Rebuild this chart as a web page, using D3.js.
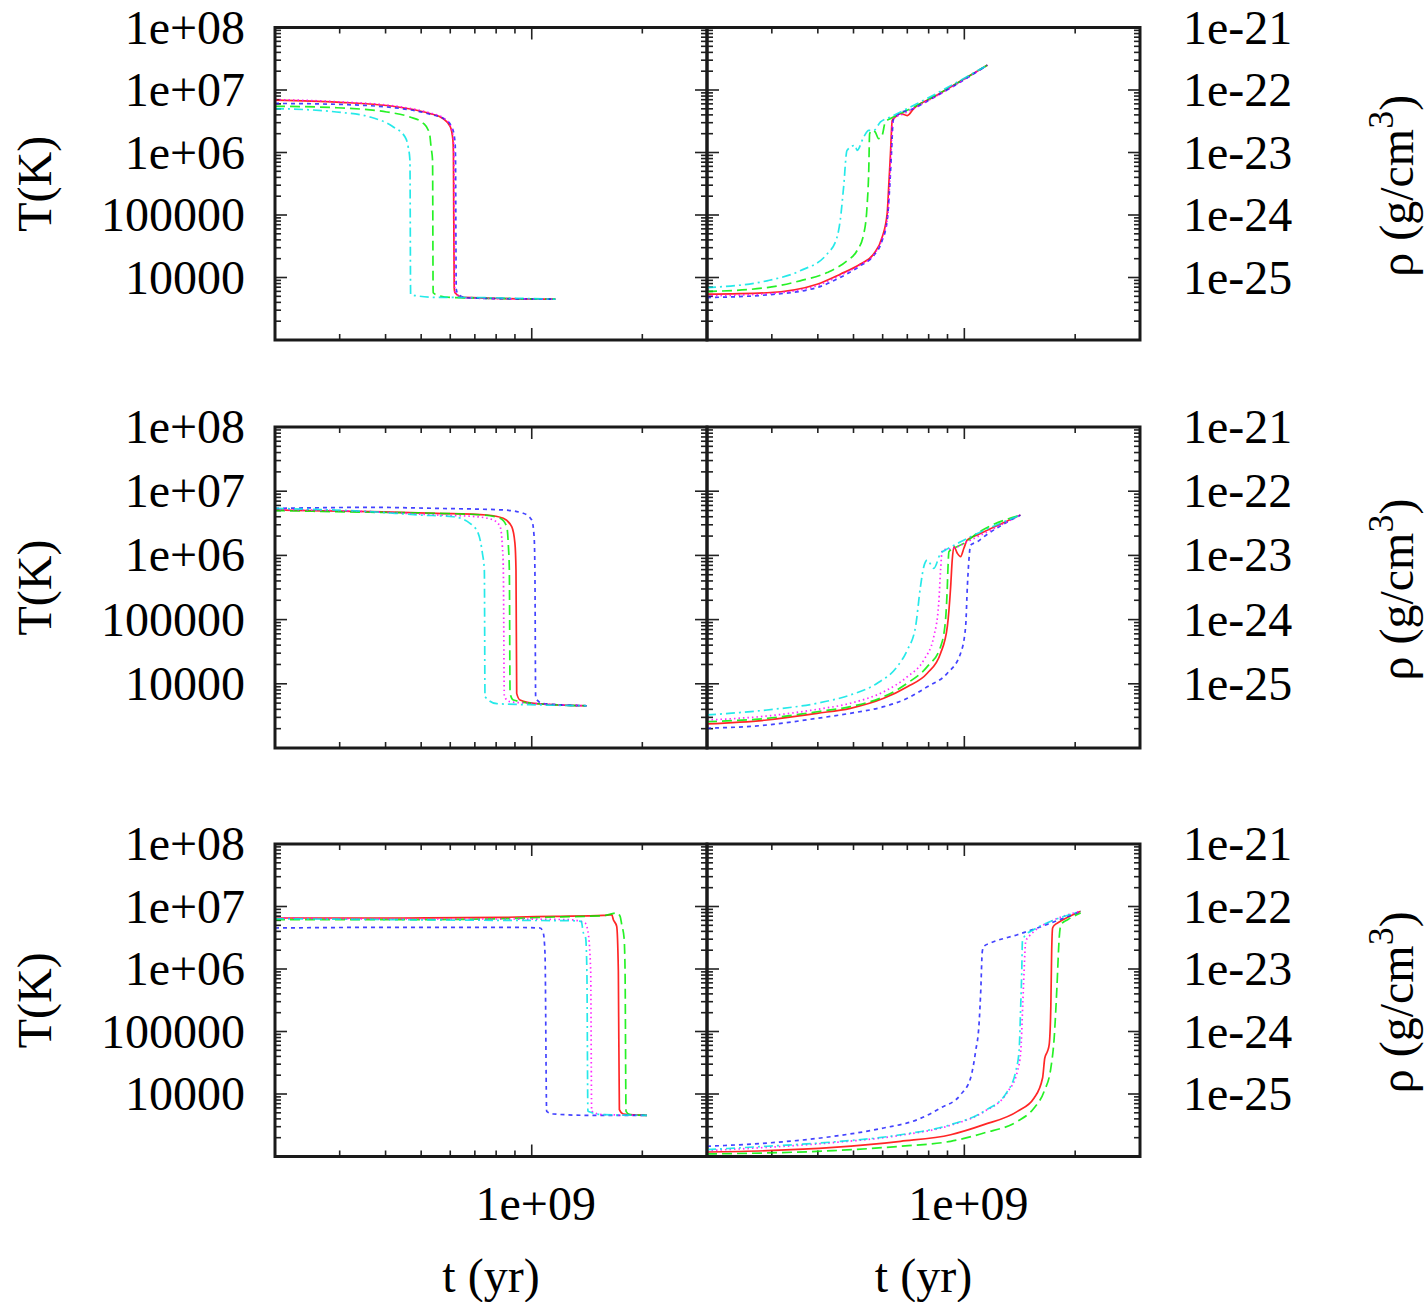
<!DOCTYPE html>
<html>
<head>
<meta charset="utf-8">
<script src="https://cdn.jsdelivr.net/npm/d3@7"></script>
<style>
  body { margin: 0; background: #fff; }
  text { font-family: "Liberation Serif", "Times New Roman", serif; fill: #000; }
</style>
</head>
<body>
<svg id="chart" width="1427" height="1302"></svg>
<script>
// axis settings
var tDomain = [2e8, 3e9];
var tempDomain = [1e3, 1e8];
var rhoDomain = [1e-26, 1e-21];
var xTickLabels = [[1e9, "1e+09"]];
var tempTickLabels = [[1e8, "1e+08"], [1e7, "1e+07"], [1e6, "1e+06"], [1e5, "100000"], [1e4, "10000"]];
var rhoTickLabels = [[1e-21, "1e-21"], [1e-22, "1e-22"], [1e-23, "1e-23"], [1e-24, "1e-24"], [1e-25, "1e-25"]];

// series order: red, green, blue, magenta, cyan  -- points are [t (yr), value]
var seriesColors = ["#ff0000", "#00ee00", "#2222ff", "#ff00ff", "#00e5e5"];
var seriesDash = [null, "10,5", "4,4", "1.5,3", "9,4,2,4"];

// top row
var tempTop = [
  [[2.0e8,6.9e6],[2.95e8,6.4e6],[4.46e8,5.2e6],[5.28e8,4.2e6],[5.73e8,3.5e6],[6.0e8,2.6e6],[6.1e8,1.6e6],[6.12e8,9.6e5],[6.15e8,6.9e3],[6.18e8,5.7e3],[6.5e8,4.8e3],[1.16e9,4.5e3]],
  [[2.0e8,5.5e6],[2.95e8,5.2e6],[4.03e8,4.45e6],[4.66e8,3.7e6],[5.08e8,2.9e6],[5.27e8,2.0e6],[5.32e8,1.22e6],[5.37e8,7.5e5],[5.39e8,5.7e3],[5.6e8,5.1e3],[6.0e8,4.8e3],[1.16e9,4.5e3]],
  [[2.0e8,6.1e6],[2.95e8,5.9e6],[4.46e8,5.0e6],[5.28e8,4.1e6],[5.8e8,3.4e6],[6.07e8,2.5e6],[6.18e8,1.5e6],[6.2e8,9.0e5],[6.23e8,6.5e3],[6.3e8,5.4e3],[6.7e8,4.7e3],[1.16e9,4.5e3]],
  [[2.0e8,7.0e6],[2.95e8,6.5e6],[4.46e8,5.3e6],[5.28e8,4.3e6],[5.73e8,3.6e6],[6.02e8,2.6e6],[6.12e8,1.6e6],[6.14e8,9.6e5],[6.17e8,6.9e3],[6.2e8,5.6e3],[6.6e8,4.7e3],[1.16e9,4.5e3]],
  [[2.0e8,5.05e6],[2.94e8,4.45e6],[3.63e8,3.7e6],[4.2e8,2.56e6],[4.52e8,1.77e6],[4.61e8,1.22e6],[4.66e8,7.5e5],[4.68e8,5.4e3],[4.86e8,5.1e3],[5.51e8,4.8e3],[6.0e8,4.8e3],[1.16e9,4.5e3]]
];
var rhoTop = [
  [[2.0e8,5.4e-26],[2.91e8,5.7e-26],[3.98e8,7.8e-26],[4.6e8,1.13e-25],[5.22e8,1.64e-25],[5.67e8,2.38e-25],[5.98e8,4.39e-25],[6.17e8,1.04e-24],[6.23e8,2.79e-24],[6.3e8,9.6e-24],[6.37e8,3.27e-23],[6.5e8,3.7e-23],[6.71e8,4.2e-23],[7.0e8,3.9e-23],[7.29e8,5.05e-23],[8.26e8,7.74e-23],[1.155e9,2.5e-22]],
  [[2.0e8,5.96e-26],[2.91e8,6.9e-26],[3.58e8,8.85e-26],[4.24e8,1.2e-25],[4.8e8,1.85e-25],[5.11e8,2.68e-25],[5.33e8,4.97e-25],[5.44e8,1.33e-24],[5.5e8,5.16e-24],[5.53e8,2.0e-23],[5.62e8,2.26e-23],[5.73e8,2.12e-23],[5.85e8,1.67e-23],[5.98e8,1.88e-23],[6.1e8,3.08e-23],[6.3e8,3.49e-23],[6.71e8,4.2e-23],[7.45e8,5.7e-23],[1.155e9,2.5e-22]],
  [[2.0e8,4.78e-26],[2.91e8,5.27e-26],[3.98e8,6.9e-26],[4.6e8,1.0e-25],[5.22e8,1.54e-25],[5.67e8,2.23e-25],[5.98e8,3.88e-25],[6.17e8,8.1e-25],[6.27e8,2.79e-24],[6.34e8,9.6e-24],[6.41e8,3.27e-23],[6.57e8,3.94e-23],[6.78e8,4.46e-23],[7.07e8,4.74e-23],[8.26e8,7.58e-23],[1.155e9,2.5e-22]],
  [[2.0e8,5.1e-26],[2.91e8,5.5e-26],[3.98e8,7.4e-26],[4.6e8,1.08e-25],[5.22e8,1.6e-25],[5.67e8,2.3e-25],[5.98e8,4.2e-25],[6.2e8,1.0e-24],[6.26e8,2.8e-24],[6.32e8,9.6e-24],[6.39e8,3.27e-23],[6.55e8,3.8e-23],[6.75e8,4.0e-23],[7.05e8,4.6e-23],[8.26e8,7.6e-23],[1.155e9,2.5e-22]],
  [[2.0e8,6.9e-26],[2.91e8,8.85e-26],[3.58e8,1.28e-25],[4.24e8,2.38e-25],[4.51e8,4.39e-25],[4.6e8,8.1e-25],[4.7e8,2.79e-24],[4.8e8,1.08e-23],[5.05e8,1.3e-23],[5.11e8,1.08e-23],[5.33e8,1.77e-23],[5.5e8,2.26e-23],[5.67e8,2.26e-23],[5.92e8,3.08e-23],[6.3e8,3.7e-23],[6.71e8,4.46e-23],[7.45e8,6.07e-23],[1.155e9,2.5e-22]]
];

// middle row
var tempMid = [
  [[2.0e8,5.1e6],[3.63e8,4.8e6],[5.51e8,4.53e6],[7.54e8,4.26e6],[8.37e8,3.78e6],[8.82e8,2.8e6],[9.0e8,1.54e6],[9.06e8,5.9e5],[9.1e8,7.1e3],[9.29e8,5.6e3],[1.03e9,4.9e3],[1.41e9,4.55e3]],
  [[2.0e8,5.0e6],[3.63e8,4.7e6],[5.51e8,4.53e6],[7.38e8,4.26e6],[8.2e8,3.78e6],[8.55e8,2.8e6],[8.64e8,1.37e6],[8.69e8,5.9e5],[8.73e8,7.1e3],[8.91e8,5.6e3],[1.03e9,4.9e3],[1.41e9,4.55e3]],
  [[2.0e8,5.4e6],[3.63e8,5.6e6],[5.51e8,5.4e6],[8.37e8,5.1e6],[9.48e8,4.53e6],[1.0e9,3.56e6],[1.015e9,1.95e6],[1.02e9,5.9e5],[1.025e9,5.94e3],[1.076e9,4.9e3],[1.41e9,4.55e3]],
  [[2.0e8,5.2e6],[3.63e8,4.8e6],[5.51e8,4.26e6],[7.08e8,4.0e6],[7.86e8,3.56e6],[8.2e8,2.8e6],[8.32e8,1.37e6],[8.37e8,5.9e5],[8.42e8,6.3e3],[8.73e8,5.26e3],[1.03e9,4.9e3],[1.41e9,4.55e3]],
  [[2.0e8,5.4e6],[3.63e8,4.8e6],[4.96e8,4.26e6],[6.12e8,4.0e6],[6.79e8,3.16e6],[7.15e8,2.2e6],[7.34e8,1.08e6],[7.43e8,5.9e5],[7.46e8,6.3e3],[8.03e8,4.9e3],[1.03e9,4.7e3],[1.41e9,4.55e3]]
];
var rhoMid = [
  [[2.0e8,2.37e-26],[2.91e8,2.73e-26],[3.98e8,3.47e-26],[4.9e8,4.15e-26],[6.04e8,5.94e-26],[7.0e8,9.0e-26],[7.93e8,1.46e-25],[8.62e8,2.99e-25],[8.99e8,7.75e-25],[9.18e8,3.25e-24],[9.27e8,8.47e-24],[9.37e8,1.37e-23],[9.57e8,1.08e-23],[9.77e8,9.55e-24],[9.97e8,1.29e-23],[1.019e9,1.74e-23],[1.085e9,2.08e-23],[1.42e9,4.25e-23]],
  [[2.0e8,2.57e-26],[2.91e8,2.9e-26],[3.98e8,3.67e-26],[4.9e8,4.4e-26],[6.04e8,6.3e-26],[7.0e8,1.02e-25],[7.93e8,1.85e-25],[8.62e8,3.78e-25],[8.89e8,9.86e-25],[8.99e8,3.25e-24],[9.03e8,6.67e-24],[9.08e8,1.14e-23],[9.37e8,1.29e-23],[9.97e8,1.54e-23],[1.085e9,2.21e-23],[1.42e9,4.25e-23]],
  [[2.0e8,2.03e-26],[2.91e8,2.28e-26],[3.98e8,2.9e-26],[4.9e8,3.47e-26],[6.04e8,4.4e-26],[7.0e8,5.94e-26],[7.93e8,9.0e-26],[8.99e8,1.46e-25],[9.77e8,2.99e-25],[1.008e9,7.75e-25],[1.019e9,3.25e-24],[1.029e9,8.47e-24],[1.04e9,1.45e-23],[1.085e9,1.63e-23],[1.13e9,1.95e-23],[1.42e9,4.25e-23]],
  [[2.0e8,2.73e-26],[2.91e8,3.15e-26],[3.98e8,4.0e-26],[4.9e8,4.97e-26],[6.04e8,7.53e-26],[7.0e8,1.29e-25],[7.76e8,2.35e-25],[8.26e8,5.42e-25],[8.52e8,1.79e-24],[8.62e8,5.93e-24],[8.71e8,1.21e-23],[9.37e8,1.29e-23],[1.019e9,1.63e-23],[1.42e9,4.25e-23]],
  [[2.0e8,3.27e-26],[2.91e8,3.91e-26],[3.98e8,4.97e-26],[4.9e8,6.7e-26],[5.8e8,1.02e-25],[6.57e8,1.85e-25],[7.0e8,3.36e-25],[7.37e8,7.75e-25],[7.6e8,3.25e-24],[7.76e8,6.67e-24],[7.93e8,8.47e-24],[8.26e8,6.3e-24],[8.62e8,1.08e-23],[8.89e8,1.21e-23],[9.77e8,1.63e-23],[1.42e9,4.25e-23]]
];

// bottom row
var tempBot = [
  [[2.0e8,6.55e6],[4.47e8,6.55e6],[8.37e8,6.7e6],[1.145e9,6.97e6],[1.566e9,7.22e6],[1.651e9,7.39e6],[1.668e9,6.15e6],[1.703e9,4.82e6],[1.721e9,9.2e5],[1.732e9,5.61e3],[1.776e9,4.79e3],[2.06e9,4.56e3]],
  [[2.0e8,6.15e6],[4.47e8,6.15e6],[8.37e8,6.38e6],[1.145e9,6.79e6],[1.566e9,7.13e6],[1.703e9,7.87e6],[1.74e9,6.97e6],[1.758e9,5.11e6],[1.784e9,3.13e6],[1.795e9,9.2e5],[1.806e9,5.28e3],[1.851e9,4.67e3],[2.06e9,4.56e3]],
  [[2.0e8,4.53e6],[4.47e8,4.65e6],[8.37e8,4.65e6],[1.053e9,4.53e6],[1.075e9,3.77e6],[1.087e9,1.69e6],[1.098e9,5.28e3],[1.145e9,4.79e3],[1.41e9,4.56e3],[2.06e9,4.56e3]],
  [[2.0e8,6.55e6],[4.47e8,6.31e6],[8.37e8,6.31e6],[1.27e9,6.15e6],[1.396e9,5.45e6],[1.422e9,4.0e6],[1.447e9,9.2e5],[1.456e9,5.28e3],[1.566e9,4.67e3],[2.06e9,4.56e3]],
  [[2.0e8,6.38e6],[4.47e8,6.15e6],[8.37e8,6.0e6],[1.27e9,5.93e6],[1.365e9,5.8e6],[1.379e9,4.0e6],[1.402e9,3.13e6],[1.413e9,9.2e5],[1.422e9,5.28e3],[1.566e9,4.67e3],[2.06e9,4.56e3]]
];
var rhoBot = [
  [[2.0e8,1.18e-26],[2.91e8,1.24e-26],[4.41e8,1.4e-26],[6.71e8,1.75e-26],[9.18e8,2.23e-26],[1.13e9,3.23e-26],[1.394e9,5.28e-26],[1.547e9,8.63e-26],[1.631e9,1.8e-25],[1.654e9,3.77e-25],[1.682e9,4.82e-25],[1.7e9,6.15e-25],[1.718e9,2.68e-24],[1.726e9,1.69e-23],[1.737e9,4.53e-23],[1.762e9,5.11e-23],[1.791e9,5.44e-23],[2.07e9,8.37e-23]],
  [[2.0e8,1.1e-26],[2.91e8,1.14e-26],[4.41e8,1.24e-26],[6.71e8,1.46e-26],[9.18e8,1.75e-26],[1.13e9,2.38e-26],[1.394e9,3.66e-26],[1.547e9,5.97e-26],[1.647e9,1.1e-25],[1.718e9,2.61e-25],[1.754e9,7.87e-25],[1.784e9,4.97e-24],[1.81e9,3.13e-23],[1.829e9,5.11e-23],[1.907e9,6.15e-23],[2.07e9,7.87e-23]],
  [[2.0e8,1.46e-26],[2.91e8,1.64e-26],[4.41e8,2.1e-26],[6.04e8,2.86e-26],[7.45e8,3.88e-26],[8.62e8,5.97e-26],[9.77e8,9.75e-26],[1.04e9,1.8e-25],[1.073e9,4.82e-25],[1.096e9,1.29e-24],[1.108e9,4.4e-24],[1.119e9,1.92e-23],[1.13e9,2.31e-23],[1.179e9,2.61e-23],[1.394e9,3.54e-23],[1.718e9,5.44e-23],[2.07e9,8.37e-23]],
  [[2.0e8,1.24e-26],[2.91e8,1.4e-26],[4.41e8,1.67e-26],[6.71e8,2.18e-26],[9.18e8,3.16e-26],[1.13e9,5.2e-26],[1.309e9,1.07e-25],[1.394e9,2.31e-25],[1.423e9,4.82e-25],[1.441e9,2.68e-24],[1.453e9,9.18e-24],[1.468e9,2.77e-23],[1.499e9,3.33e-23],[1.547e9,4.01e-23],[1.718e9,5.8e-23],[2.07e9,8.37e-23]],
  [[2.0e8,1.29e-26],[2.91e8,1.46e-26],[4.41e8,1.71e-26],[6.71e8,2.23e-26],[9.18e8,3.23e-26],[1.13e9,5.28e-26],[1.309e9,1.1e-25],[1.379e9,2.31e-25],[1.408e9,4.82e-25],[1.423e9,2.68e-24],[1.432e9,9.18e-24],[1.438e9,2.77e-23],[1.468e9,3.54e-23],[1.515e9,4.01e-23],[1.718e9,5.8e-23],[2.07e9,8.37e-23]]
];

var svg = d3.select("#chart");

var colLeft = [275, 707], colRight = [707, 1140];
var rows = [[27.5, 340], [427, 748], [844, 1156.5]];
var panels = [
  [tempTop, rhoTop],
  [tempMid, rhoMid],
  [tempBot, rhoBot]
];

function isDecade(v) {
  var l = Math.log10(v);
  return Math.abs(l - Math.round(l)) < 1e-6;
}

function drawPanel(series, cols, row, yDomain, showX) {
  var x = d3.scaleLog().domain(tDomain).range(cols);
  var y = d3.scaleLog().domain(yDomain).range([row[1], row[0]]);
  var g = svg.append("g");

  var clipId = "clip" + Math.round(cols[0]) + "_" + Math.round(row[0]);
  svg.append("clipPath").attr("id", clipId)
    .append("rect").attr("x", cols[0]).attr("y", row[0])
    .attr("width", cols[1] - cols[0]).attr("height", row[1] - row[0]);

  // ticks, inward on all four sides
  var tg = g.append("g").attr("stroke", "#222").attr("stroke-width", 1.6);
  x.ticks().forEach(function(v) {
    var len = isDecade(v) ? 12 : 6;
    var px = x(v);
    tg.append("line").attr("x1", px).attr("x2", px).attr("y1", row[1]).attr("y2", row[1] - len);
    tg.append("line").attr("x1", px).attr("x2", px).attr("y1", row[0]).attr("y2", row[0] + len);
  });
  y.ticks().forEach(function(v) {
    var len = isDecade(v) ? 12 : 6;
    var py = y(v);
    tg.append("line").attr("x1", cols[0]).attr("x2", cols[0] + len).attr("y1", py).attr("y2", py);
    tg.append("line").attr("x1", cols[1]).attr("x2", cols[1] - len).attr("y1", py).attr("y2", py);
  });

  var line = d3.line()
    .curve(d3.curveMonotoneX)
    .x(function(d) { return x(d[0]); })
    .y(function(d) { return y(d[1]); });

  g.append("g").attr("clip-path", "url(#" + clipId + ")")
    .selectAll("path")
    .data(series)
    .enter().append("path")
    .attr("d", line)
    .attr("fill", "none")
    .attr("stroke", function(d, i) { return seriesColors[i]; })
    .attr("stroke-width", 1.7)
    .attr("stroke-opacity", 0.85)
    .attr("stroke-dasharray", function(d, i) { return seriesDash[i]; });

  g.append("rect")
    .attr("x", cols[0]).attr("y", row[0])
    .attr("width", cols[1] - cols[0]).attr("height", row[1] - row[0])
    .attr("fill", "none").attr("stroke", "#1a1a1a").attr("stroke-width", 3);

  if (showX) {
    xTickLabels.forEach(function(t) {
      g.append("text").attr("x", x(t[0]) + 4).attr("y", 1220)
        .attr("text-anchor", "middle").attr("font-size", 48).text(t[1]);
    });
    g.append("text").attr("x", (cols[0] + cols[1]) / 2).attr("y", 1292)
      .attr("text-anchor", "middle").attr("font-size", 48).text("t (yr)");
  }
  return y;
}

panels.forEach(function(p, r) {
  var row = rows[r];
  var yT = drawPanel(p[0], colLeft, row, tempDomain, r === 2);
  var yR = drawPanel(p[1], colRight, row, rhoDomain, r === 2);

  tempTickLabels.forEach(function(t) {
    svg.append("text").attr("x", 245).attr("y", yT(t[0]) + 16)
      .attr("text-anchor", "end").attr("font-size", 48).text(t[1]);
  });
  rhoTickLabels.forEach(function(t) {
    svg.append("text").attr("x", 1183).attr("y", yR(t[0]) + 16)
      .attr("text-anchor", "start").attr("font-size", 48).text(t[1]);
  });

  var cy = (row[0] + row[1]) / 2;
  svg.append("text")
    .attr("transform", "translate(51," + cy + ") rotate(-90)")
    .attr("text-anchor", "middle").attr("font-size", 48).text("T(K)");

  var lab = svg.append("text")
    .attr("transform", "translate(1413," + (cy + 2) + ") rotate(-90)")
    .attr("text-anchor", "middle").attr("font-size", 48);
  lab.append("tspan").text("\u03c1 (g/cm");
  lab.append("tspan").attr("font-size", 36).attr("dy", -20).text("3");
  lab.append("tspan").attr("dy", 20).text(")");
});
</script>
</body>
</html>
